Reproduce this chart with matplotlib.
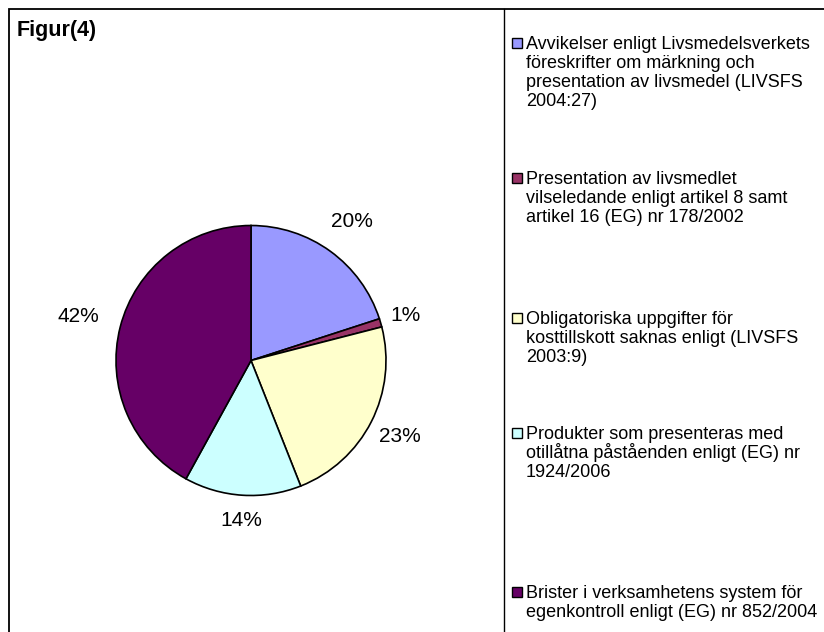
import matplotlib
matplotlib.use("Agg")
import matplotlib.pyplot as plt
from matplotlib.patches import Rectangle
from matplotlib.lines import Line2D
import numpy as np

plt.rcParams['font.family'] = ['Liberation Sans', 'DejaVu Sans']

# ---- data ----
categories = [
    ["Avvikelser enligt Livsmedelsverkets", "föreskrifter om märkning och",
     "presentation av livsmedel (LIVSFS", "2004:27)"],
    ["Presentation av livsmedlet", "vilseledande enligt artikel 8 samt",
     "artikel 16 (EG) nr 178/2002"],
    ["Obligatoriska uppgifter för", "kosttillskott saknas enligt (LIVSFS",
     "2003:9)"],
    ["Produkter som presenteras med", "otillåtna påståenden enligt (EG) nr",
     "1924/2006"],
    ["Brister i verksamhetens system för", "egenkontroll enligt (EG) nr 852/2004"],
]
values = [20, 1, 23, 14, 42]
pct_labels = ["20%", "1%", "23%", "14%", "42%"]
colors = ["#9999FF", "#993366", "#FFFFCC", "#CCFFFF", "#660066"]
title = "Figur(4)"

# layout/style
W, H = 824, 632
label_dist = [1.27, 1.19, 1.24, 1.19, 1.32]
legend_first_y = [43, 178, 318, 433, 592]
line_step = 19

fig = plt.figure(figsize=(W / 100, H / 100), dpi=100)
fig.patch.set_facecolor("white")

def fx(px):
    return px / W

def fy(py):
    return 1 - py / H

# outer border and separator
fig.add_artist(Rectangle((fx(9), fy(H + 20)), fx(W + 20), (H + 20 - 9) / H,
                         transform=fig.transFigure, fill=False,
                         edgecolor="black", linewidth=1.3))
fig.add_artist(Line2D([fx(504), fx(504)], [fy(9), fy(H + 5)],
                      transform=fig.transFigure, color="black", linewidth=1.0))

# title
fig.text(fx(17), fy(36), title, fontsize=15.5, fontweight="bold",
         ha="left", va="baseline")

# pie
cx, cy, r = 251, 360.5, 135
ax = fig.add_axes([fx(cx - r), (H - cy - r) / H, 2 * r / W, 2 * r / H])
wedges, _ = ax.pie(values, colors=colors, startangle=90, counterclock=False,
                   wedgeprops=dict(edgecolor="black", linewidth=1.2))
ax.set_xlim(-1, 1)
ax.set_ylim(-1, 1)
ax.set_aspect("auto")
ax.axis("off")

for w, lab, d in zip(wedges, pct_labels, label_dist):
    ang = np.deg2rad((w.theta1 + w.theta2) / 2)
    ax.text(d * np.cos(ang), d * np.sin(ang), lab, fontsize=15,
            ha="center", va="center", clip_on=False)

# legend
for lines, col, y0 in zip(categories, colors, legend_first_y):
    fig.add_artist(Rectangle((fx(512), fy(y0 + 5)), fx(10), 10 / H,
                             transform=fig.transFigure, facecolor=col,
                             edgecolor="black", linewidth=1.0))
    for i, ln in enumerate(lines):
        fig.text(fx(526), fy(y0 + i * line_step + 6), ln, fontsize=13,
                 ha="left", va="baseline")

fig.savefig("out.png", dpi=100)
